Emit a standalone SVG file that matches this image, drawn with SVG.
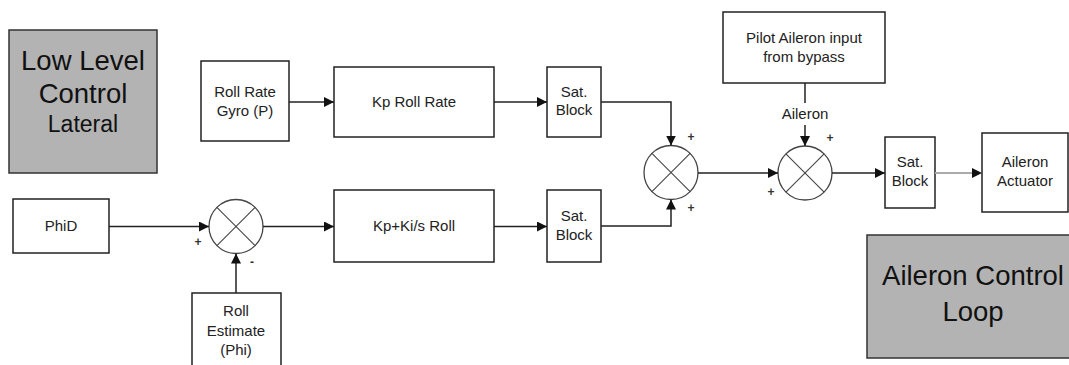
<svg xmlns="http://www.w3.org/2000/svg" width="1069" height="365" viewBox="0 0 1069 365">
<style>
.b{fill:#fff;stroke:#222;stroke-width:1.5}
.g{fill:#b3b3b3;stroke:#333;stroke-width:1.5}
.s{fill:#fff;stroke:#444;stroke-width:1.3}
.x{stroke:#444;stroke-width:1.1}
.t{font-family:"Liberation Sans",Arial,sans-serif;font-size:15px;fill:#222;text-anchor:middle}
.big{font-family:"Liberation Sans",Arial,sans-serif;font-size:27.5px;fill:#111;text-anchor:middle}
.sg{font-family:"Liberation Sans",Arial,sans-serif;font-size:12px;font-weight:bold;fill:#333;text-anchor:middle}
.c{fill:none;stroke:#222;stroke-width:1.5}
</style>
<defs>
<marker id="a" markerWidth="10" markerHeight="10" refX="10" refY="5" orient="auto" markerUnits="userSpaceOnUse">
<path d="M0,0 L10,5 L0,10 z" fill="#111"/>
</marker>
</defs>
<rect width="1069" height="365" fill="#fff"/>
<g id="lowlevel">
<rect class="g" x="9" y="30" width="148" height="143"/>
<text class="big" x="83" y="70">Low Level</text>
<text class="big" x="83" y="103">Control</text>
<text class="big" x="83" y="132" style="font-size:23px">Lateral</text>
</g>
<g id="gyro">
<rect class="b" x="201" y="61" width="88" height="80"/>
<text class="t" x="245" y="97">Roll Rate</text>
<text class="t" x="245" y="116">Gyro (P)</text>
</g>
<g id="kprate">
<rect class="b" x="334" y="67" width="160" height="70"/>
<text class="t" x="414" y="107">Kp Roll Rate</text>
</g>
<g id="sat1">
<rect class="b" x="547" y="67" width="54" height="70"/>
<text class="t" x="574" y="97">Sat.</text>
<text class="t" x="574" y="115">Block</text>
</g>
<g id="phid">
<rect class="b" x="13" y="199" width="96" height="54"/>
<text class="t" x="61" y="231">PhiD</text>
</g>
<g id="sum1">
<circle class="s" cx="236" cy="226.5" r="27"/>
<line class="x" x1="216.9" y1="207.4" x2="255.1" y2="245.6"/>
<line class="x" x1="255.1" y1="207.4" x2="216.9" y2="245.6"/>
</g>
<g id="rollest">
<rect class="b" x="192" y="293" width="89" height="80"/>
<text class="t" x="236" y="316">Roll</text>
<text class="t" x="236" y="336">Estimate</text>
<text class="t" x="236" y="355">(Phi)</text>
</g>
<g id="kpki">
<rect class="b" x="334" y="190" width="160" height="72"/>
<text class="t" x="414" y="231">Kp+Ki/s Roll</text>
</g>
<g id="sat2">
<rect class="b" x="547" y="190" width="54" height="72"/>
<text class="t" x="574" y="221">Sat.</text>
<text class="t" x="574" y="240">Block</text>
</g>
<g id="sum2">
<circle class="s" cx="671" cy="172.5" r="27"/>
<line class="x" x1="651.9" y1="153.4" x2="690.1" y2="191.6"/>
<line class="x" x1="690.1" y1="153.4" x2="651.9" y2="191.6"/>
</g>
<g id="pilot">
<rect class="b" x="723" y="12" width="162" height="71"/>
<text class="t" x="804" y="43">Pilot Aileron input</text>
<text class="t" x="804" y="62">from bypass</text>
</g>
<g id="sum3">
<circle class="s" cx="805" cy="173" r="27"/>
<line class="x" x1="785.9" y1="153.9" x2="824.1" y2="192.1"/>
<line class="x" x1="824.1" y1="153.9" x2="785.9" y2="192.1"/>
</g>
<g id="sat3">
<rect class="b" x="885" y="137" width="50" height="71"/>
<text class="t" x="910" y="167">Sat.</text>
<text class="t" x="910" y="186">Block</text>
</g>
<g id="actuator">
<rect class="b" x="982" y="133" width="86" height="79"/>
<text class="t" x="1025" y="167">Aileron</text>
<text class="t" x="1025" y="186">Actuator</text>
</g>
<g id="loop">
<rect class="g" x="867" y="235" width="210" height="123"/>
<text class="big" x="973" y="285">Aileron Control</text>
<text class="big" x="973" y="321">Loop</text>
</g>
<g id="connectors">
<line class="c" x1="289" y1="102" x2="334" y2="102" marker-end="url(#a)"/>
<line class="c" x1="494" y1="102" x2="547" y2="102" marker-end="url(#a)"/>
<polyline class="c" points="601,102 671,102 671,145.5" marker-end="url(#a)"/>
<line class="c" x1="109" y1="226.5" x2="209" y2="226.5" marker-end="url(#a)"/>
<line class="c" x1="236" y1="293" x2="236" y2="253.5" marker-end="url(#a)"/>
<line class="c" x1="263" y1="226.5" x2="334" y2="226.5" marker-end="url(#a)"/>
<line class="c" x1="494" y1="226.5" x2="547" y2="226.5" marker-end="url(#a)"/>
<polyline class="c" points="601,226 671,226 671,199.5" marker-end="url(#a)"/>
<line class="c" x1="698" y1="173" x2="778" y2="173" marker-end="url(#a)"/>
<line class="c" x1="805" y1="83" x2="805" y2="103"/>
<line class="c" x1="805" y1="125" x2="805" y2="146" marker-end="url(#a)"/>
<line class="c" x1="832" y1="173" x2="885" y2="173" marker-end="url(#a)"/>
<line x1="935" y1="173" x2="972" y2="173" stroke="#aaa" stroke-width="2"/>
<path d="M972,168 L982,173 L972,178 z" fill="#111"/>
<text class="t" x="805" y="119">Aileron</text>
<text class="sg" x="198" y="246">+</text>
<text class="sg" x="252" y="266">-</text>
<text class="sg" x="691" y="141">+</text>
<text class="sg" x="691" y="212">+</text>
<text class="sg" x="830" y="142">+</text>
<text class="sg" x="771" y="196">+</text>
</g>
</svg>
